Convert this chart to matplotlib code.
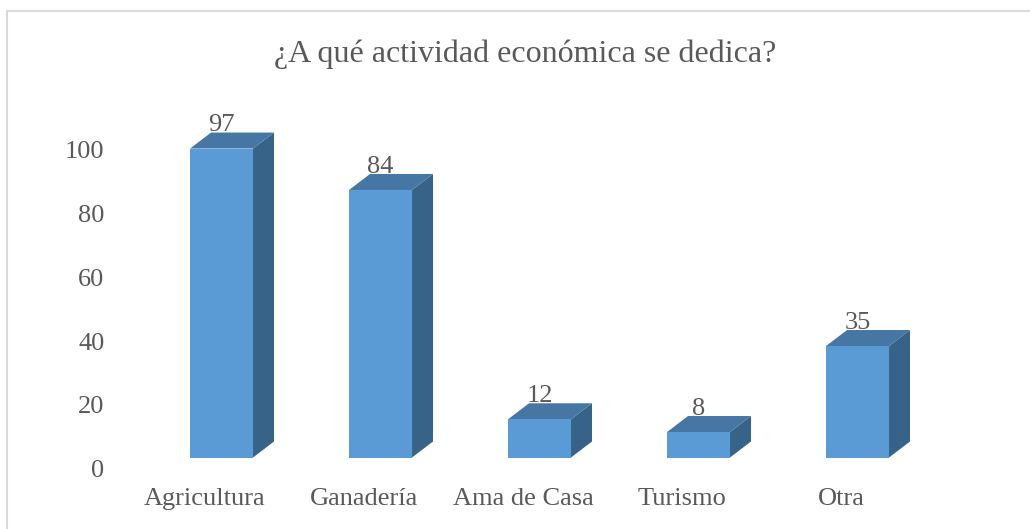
import matplotlib
matplotlib.use('Agg')
import matplotlib.pyplot as plt
from matplotlib.patches import Rectangle, Polygon

# Data
categories = ['Agricultura', 'Ganadería', 'Ama de Casa', 'Turismo', 'Otra']
values = [97, 84, 12, 8, 35]
title = '¿A qué actividad económica se dedica?'
y_ticks = [0, 20, 40, 60, 80, 100]

# Colours (Excel style 3D column)
FRONT = '#5B9BD5'
TOP = '#4676A4'
SIDE = '#386388'
TEXT = '#595959'

plt.rcParams['font.family'] = ['Liberation Serif', 'DejaVu Serif']

W, H = 1030, 529
fig = plt.figure(figsize=(W / 100, H / 100), dpi=100)

# axes placed in pixel terms: x=0 category at px 205, 159 px per category
px_per_cat = 159
x0_px = 205
ax_left, ax_right = 110, 1000
y0_px, px_per_unit = 468.5, 3.185
ax_top = 95
ax = fig.add_axes([ax_left / W, (H - y0_px) / H,
                   (ax_right - ax_left) / W, (y0_px - ax_top) / H])
ax.set_xlim((ax_left - x0_px) / px_per_cat, (ax_right - x0_px) / px_per_cat)
ax.set_ylim(0, (y0_px - ax_top) / px_per_unit)

# 3D bar geometry (data units)
front_l, front_w = -0.094, 0.396
depth_x = 21 / px_per_cat
depth_y = 16 / px_per_unit
base = 11 / px_per_unit

for i, v in enumerate(values):
    xl = i + front_l
    xr = xl + front_w
    yb = base
    yt = base + v
    # side face
    ax.add_patch(Polygon([(xr, yb), (xr + depth_x, yb + depth_y),
                          (xr + depth_x, yt + depth_y), (xr, yt)],
                         closed=True, facecolor=SIDE, edgecolor='none'))
    # top face
    ax.add_patch(Polygon([(xl, yt), (xr, yt), (xr + depth_x, yt + depth_y),
                          (xl + depth_x, yt + depth_y)],
                         closed=True, facecolor=TOP, edgecolor='none'))
    # front face
    ax.add_patch(Rectangle((xl, yb), front_w, v, facecolor=FRONT,
                           edgecolor='none'))
    ax.text(xl + front_w / 2, yt + depth_y + 0.4, str(v), ha='center',
            va='baseline', fontsize=19, color=TEXT, zorder=5)

ax.set_yticks(y_ticks)
ax.set_yticklabels([str(t) for t in y_ticks], fontsize=19, color=TEXT)
ax.set_xticks(range(len(categories)))
ax.set_xticklabels(categories, fontsize=19, color=TEXT)
ax.tick_params(axis='both', length=0)
ax.tick_params(axis='y', pad=4)
ax.tick_params(axis='x', pad=14)
for s in ax.spines.values():
    s.set_visible(False)
ax.set_facecolor('none')

fig.text(525 / W, 1 - 54 / H, title, ha='center', va='center',
         fontsize=23, color=TEXT)

# chart border (only top/left visible in the crop)
fig.patches.append(Rectangle((7 / W, -0.1), 1.2, 1 - 11 / H + 0.1,
                             transform=fig.transFigure, fill=False,
                             edgecolor='#D9D9D9', linewidth=1.5))

fig.savefig('out.png', dpi=100)
